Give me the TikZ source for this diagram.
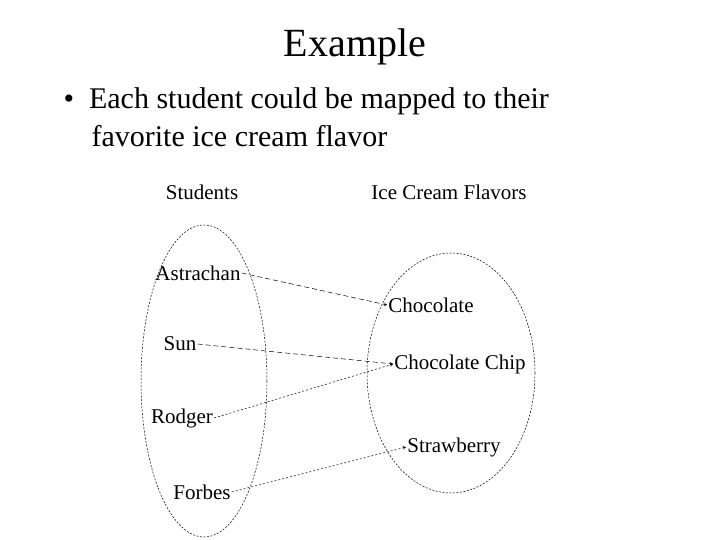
\documentclass[tikz,border=0pt]{standalone}
\usepackage{fontspec}
\setmainfont{Liberation Serif}
\begin{document}
\begin{tikzpicture}[x=1pt,y=-1pt,
  lbl/.style={font=\fontsize{21}{23}\selectfont, inner sep=1pt},
  ell/.style={draw, dash pattern=on 2pt off 1.5pt, line width=0.5pt},
  conn/.style={draw, dash pattern=on 5pt off 3pt, line width=0.5pt, ->, >=stealth}]
\useasboundingbox (0,0) rectangle (720,540);
\node (title) at (355,47) {\fontsize{40}{44}\selectfont Example};
\node[anchor=west, align=left, font=\fontsize{30}{38}\selectfont] (bul) at (60,117) {%
  \textbullet\ \ Each student could be mapped to their\\
  \hspace*{28pt}favorite ice cream flavor};
\node[lbl] (hs) at (202,192) {Students};
\node[lbl] (hf) at (449,192) {Ice Cream Flavors};
\path[ell] (204,381) ellipse [x radius=63, y radius=156];
\path[ell] (451,373) ellipse [x radius=84, y radius=120];
\node[lbl] (a) at (198,273) {Astrachan};
\node[lbl] (s) at (180,344) {Sun};
\node[lbl] (r) at (182,418) {Rodger};
\node[lbl] (f) at (202,492) {Forbes};
\node[lbl] (c) at (431,305) {Chocolate};
\node[lbl] (cc) at (460,364) {Chocolate Chip};
\node[lbl] (st) at (454,447) {Strawberry};
\path[conn] (a.east) -- (c.west);
\path[conn] (s.east) -- (cc.west);
\path[conn, dash pattern=on 2pt off 2pt] (r.east) -- (cc.west);
\path[conn, dash pattern=on 2pt off 2pt] (f.east) -- (st.west);
\end{tikzpicture}
\end{document}
